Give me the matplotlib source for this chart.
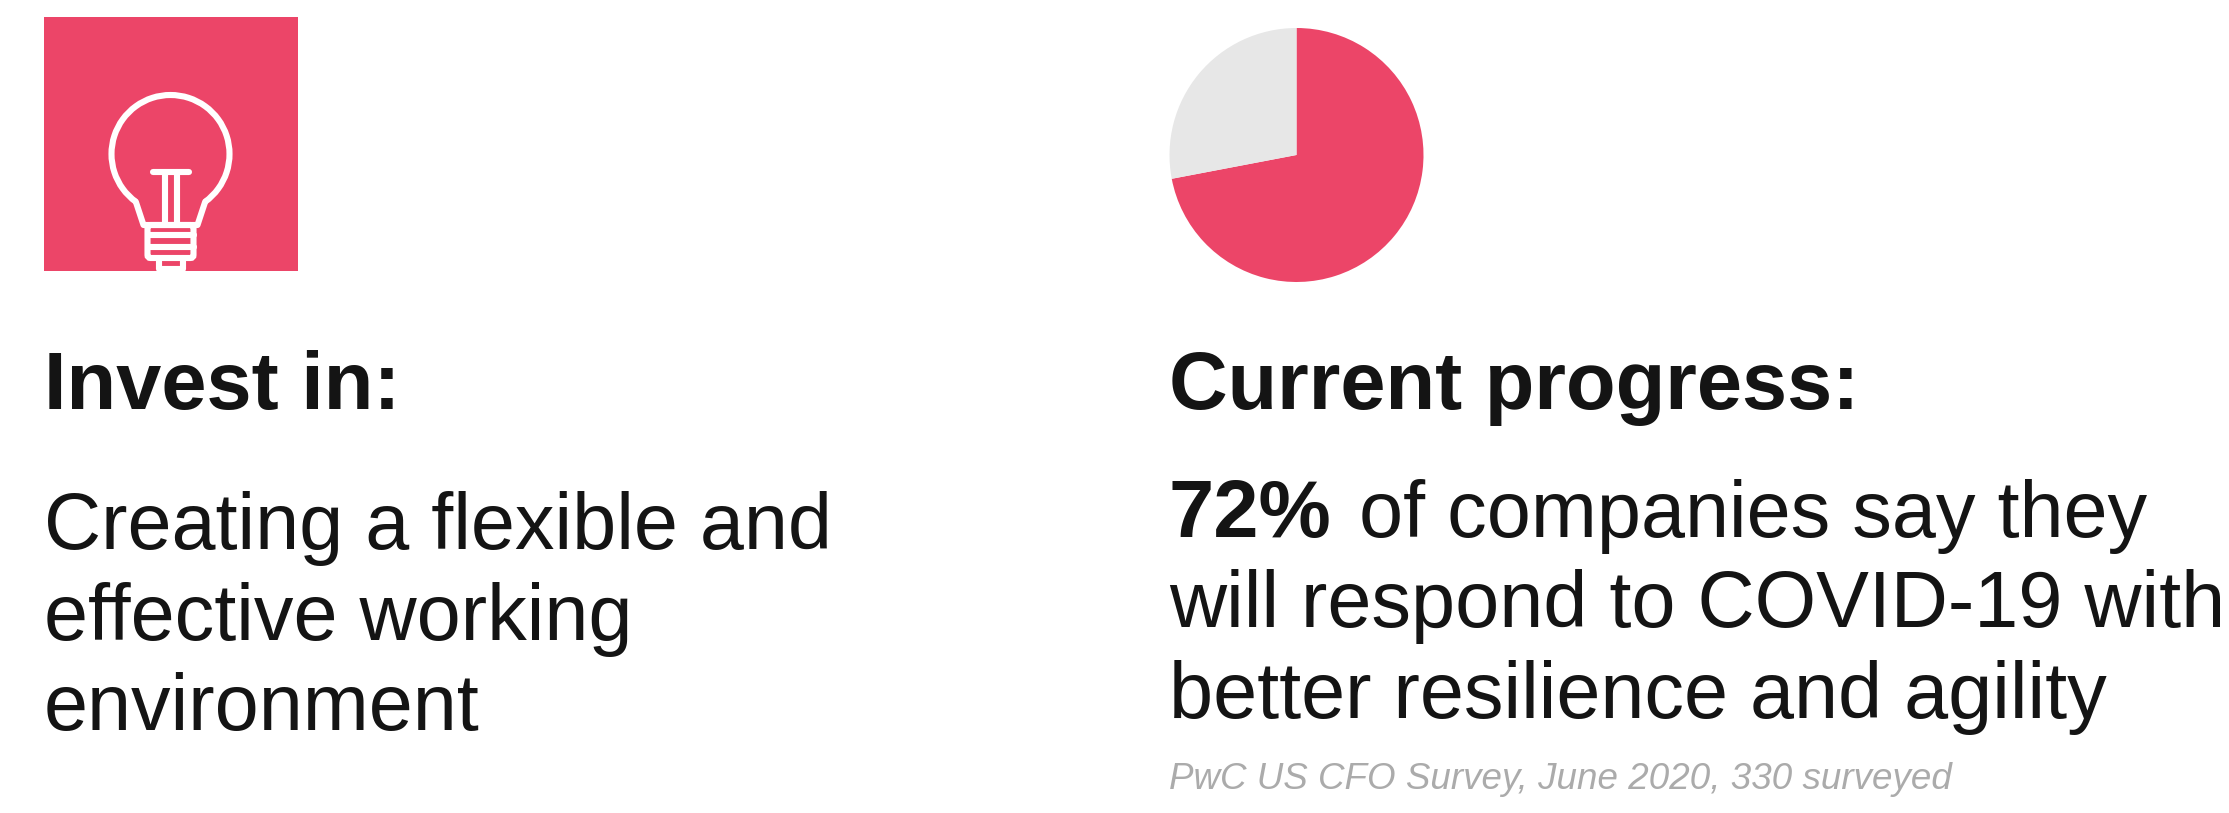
import matplotlib
matplotlib.use("Agg")
import matplotlib.pyplot as plt
from matplotlib.patches import Rectangle, Arc, FancyBboxPatch

PINK = "#EC4568"
GREY = "#E7E7E7"
INK = "#141414"
NOTE = "#ABABAB"

plt.rcParams["font.family"] = ["Liberation Sans", "DejaVu Sans"]

W, H = 2229, 813

progress_labels = ["Progressing", "Other"]
progress_values = [72, 28]

heading_left = "Invest in:"
heading_right = "Current progress:"
body_left = ["Creating a flexible and", "effective working", "environment"]
stat_bold = "72%"
body_right = [" of companies say they", "will respond to COVID-19 with", "better resilience and agility"]
source = "PwC US CFO Survey, June 2020, 330 surveyed"


def draw_bulb(ax, cx):
    """White outline light bulb, clipped at the bottom of the tile."""
    lw = 4.4
    kw = dict(color="white", lw=lw, solid_capstyle="round", solid_joinstyle="round", zorder=3)
    ax.add_patch(Arc((cx, 154), 118, 118, theta1=-234, theta2=54, color="white", lw=lw, zorder=3))
    # neck of the glass, flaring into the collar
    ax.plot([cx - 34.7, cx - 27, cx + 27, cx + 34.7], [201.7, 225, 225, 201.7], **kw)
    # filament
    ax.plot([cx - 18, cx + 18], [172, 172], **kw)
    ax.plot([cx - 6, cx - 6], [172, 224], **kw)
    ax.plot([cx + 6, cx + 6], [172, 224], **kw)
    # screw base
    ax.add_patch(FancyBboxPatch((cx - 23, 225), 46, 33, boxstyle="round,pad=0,rounding_size=3",
                                fc="none", ec="white", lw=lw, zorder=3))
    ax.plot([cx - 23, cx + 23], [235, 235], **kw)
    ax.plot([cx - 23, cx + 23], [247, 247], **kw)
    # cap, cut by the tile edge
    ax.plot([cx - 12, cx - 12, cx + 12, cx + 12], [258, 269, 269, 258], **kw)


fig = plt.figure(figsize=(W / 100, H / 100), dpi=100, facecolor="white")
ax = fig.add_axes([0, 0, 1, 1])
ax.set_xlim(0, W)
ax.set_ylim(H, 0)
ax.axis("off")

ax.add_patch(Rectangle((44, 17), 254, 254, fc=PINK, ec="none", zorder=1))
draw_bulb(ax, 170.5)

# pie, placed by its pixel box
cx, cy, r = 1296.5, 155, 127
pie_ax = fig.add_axes([(cx - r) / W, 1 - (cy + r) / H, 2 * r / W, 2 * r / H])
pie_ax.pie(progress_values, colors=[PINK, GREY], startangle=90, counterclock=False, radius=1)
pie_ax.set_xlim(-1, 1)
pie_ax.set_ylim(-1, 1)

HEAD = 58.5
BODY = 57

ax.text(44, 409, heading_left, fontsize=HEAD, fontweight="bold", color=INK, va="baseline")
ax.text(1169, 409, heading_right, fontsize=HEAD, fontweight="bold", color=INK, va="baseline")

for line, y in zip(body_left, [549, 640, 730]):
    ax.text(44, y, line, fontsize=BODY, color=INK, va="baseline")

bold = ax.text(1169, 537, stat_bold, fontsize=58.5, fontweight="bold", color=INK, va="baseline")
fig.canvas.draw()
bold_end = bold.get_window_extent().x1
ax.text(bold_end + 5, 537, body_right[0], fontsize=BODY, color=INK, va="baseline")
ax.text(1169, 627, body_right[1], fontsize=BODY, color=INK, va="baseline")
ax.text(1169, 718, body_right[2], fontsize=BODY, color=INK, va="baseline")

ax.text(1169, 789, source, fontsize=26.5, style="italic", color=NOTE, va="baseline")

fig.savefig("out.png", dpi=100)
